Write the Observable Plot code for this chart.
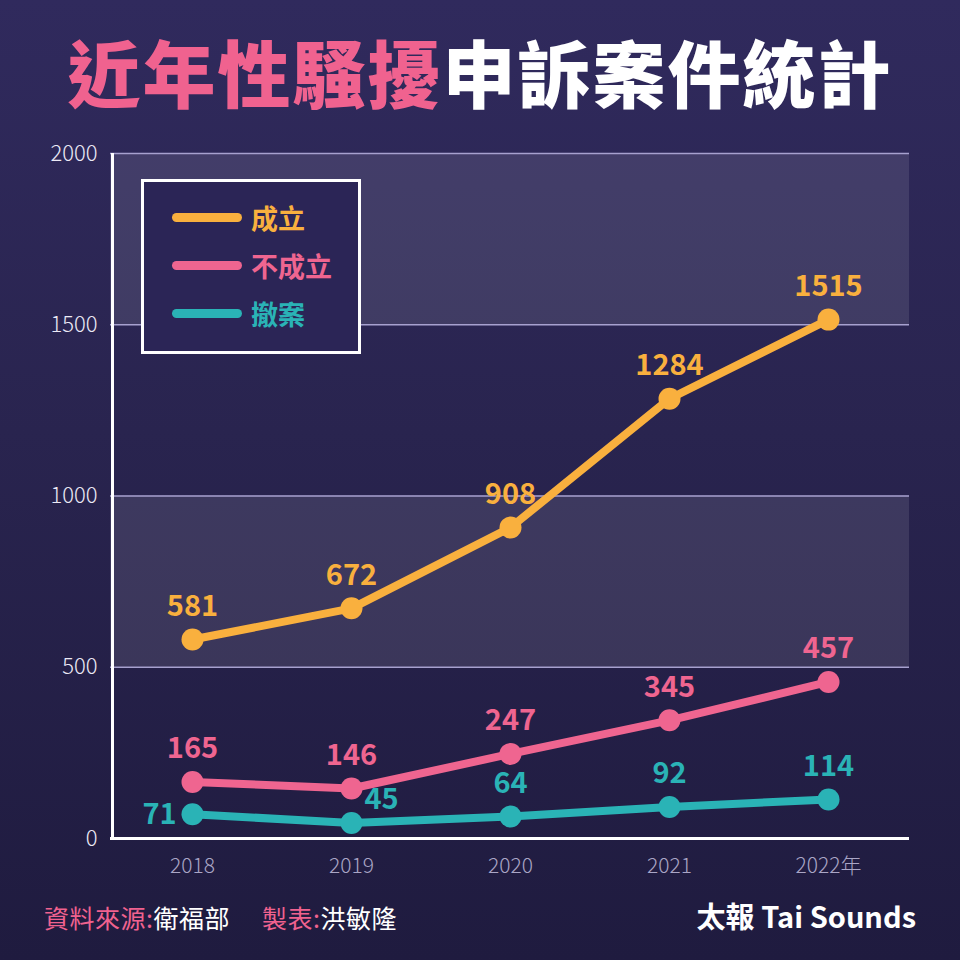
<!DOCTYPE html>
<html><head><meta charset="utf-8">
<script src="https://cdn.jsdelivr.net/npm/d3@7"></script>
<script src="https://cdn.jsdelivr.net/npm/@observablehq/plot@0.6"></script>
<style>
html,body{margin:0;padding:0;}
#page{position:relative;width:960px;height:960px;overflow:hidden;
  background:linear-gradient(180deg,#302a5d 0%,#29244f 45%,#1f1b3f 100%);
  font-family:"Noto Sans CJK TC","Noto Sans",sans-serif;}
#title{position:absolute;left:0;top:0;width:960px;height:140px;text-align:center;
  font-size:73px;font-weight:900;line-height:140px;letter-spacing:2px;}
#title .p{color:#f0628f;} #title .w{color:#ffffff;}
#chart{position:absolute;left:0;top:140px;}
#legend{position:absolute;left:141px;top:179px;width:214px;height:169px;border:3px solid #fff;
  background:#2b2556;box-sizing:content-box;}
.li{position:absolute;left:28px;height:30px;display:flex;align-items:center;}
.li .sw{width:70px;height:9px;border-radius:5px;margin-right:9px;}
.li span{font-size:27px;font-weight:700;}
#foot{position:absolute;left:44px;top:899px;font-size:25px;color:#fff;font-weight:400;letter-spacing:0.5px;white-space:nowrap;}
#foot .p{color:#f0628f;}
#foot .gap{display:inline-block;width:32px;}
#brand{position:absolute;right:44px;top:894px;font-size:29px;font-weight:700;color:#fff;}
</style></head>
<body><div id="page">
<div id="title"><span class="p">近年性騷擾</span><span class="w">申訴案件統計</span></div>
<div id="chart"></div>
<div id="legend"></div>
<div id="foot"><span class="p">資料來源:</span>衛福部<span class="gap"></span><span class="p">製表:</span>洪敏隆</div>
<div id="brand">太報 Tai Sounds</div>
</div>
<script>
const years = ["2018","2019","2020","2021","2022"];
const seriesNames = ["成立","不成立","撤案"];
const established = [581, 672, 908, 1284, 1515];
const notEstablished = [165, 146, 247, 345, 457];
const withdrawn = [71, 45, 64, 92, 114];
const yTicks = [0, 500, 1000, 1500, 2000];
const bandStarts = [500, 1500];
const bandEnds = [1000, 2000];
const colors = ["#f9b03e", "#ef6590", "#2ab3b6"];

const seriesValues = [established, notEstablished, withdrawn];
const data = [];
seriesNames.forEach((s, i) => years.forEach((y, j) => data.push({series: s, year: y, value: seriesValues[i][j]})));
const bands = bandStarts.map((b, i) => ({y1: b, y2: bandEnds[i]}));

const isLeft = d => d.series === "撤案" && d.year === "2018";
const isRight = d => d.series === "撤案" && d.year === "2019";
const isAbove = d => !isLeft(d) && !isRight(d);
const labelFont = {fontSize: 29, fontWeight: 700, fontFamily: "Noto Sans CJK TC"};

const chart = Plot.plot({
  width: 960, height: 750,
  marginTop: 13, marginBottom: 52, marginLeft: 110, marginRight: 51,
  style: {background: "transparent", fontFamily: "Noto Sans CJK TC", overflow: "visible"},
  x: {type: "point", domain: years, padding: 0.5},
  y: {domain: [0, 2000]},
  color: {domain: seriesNames, range: colors},
  marks: [
    Plot.rect(bands, {y1: "y1", y2: "y2", fill: "#ffffff", fillOpacity: 0.1}),
    Plot.ruleY(yTicks.filter(t => t > 0), {stroke: "#a7a1cf", strokeWidth: 1.5}),
    Plot.axisY({ticks: yTicks, tickFormat: d => String(d), tickSize: 0, tickPadding: 13, fontSize: 22, fill: "#eceaf6", fontWeight: 300, label: null}),
    Plot.axisX({tickSize: 0, tickPadding: 20, fontSize: 21, fill: "#aaa6c6", fontWeight: 300, label: null,
      tickFormat: (d, i) => i === years.length - 1 ? d + "年" : d}),
    Plot.ruleY([0], {stroke: "#ffffff", strokeWidth: 3}),
    Plot.ruleX([years[0]], {dx: -80, y1: 0, y2: 2000, stroke: "#ffffff", strokeWidth: 3}),
    Plot.line(data, {x: "year", y: "value", z: "series", stroke: "series", strokeWidth: 8}),
    Plot.dot(data, {x: "year", y: "value", fill: "series", r: 11}),
    Plot.text(data, {filter: isAbove, x: "year", y: "value", text: d => String(d.value), fill: "series", dy: -33, ...labelFont}),
    Plot.text(data, {filter: isLeft, x: "year", y: "value", text: d => String(d.value), fill: "series", dx: -33, dy: 1, ...labelFont}),
    Plot.text(data, {filter: isRight, x: "year", y: "value", text: d => String(d.value), fill: "series", dx: 30, dy: -23, ...labelFont})
  ]
});
document.getElementById("chart").appendChild(chart);

const leg = document.getElementById("legend");
seriesNames.forEach((s, i) => {
  const row = document.createElement("div");
  row.className = "li";
  row.style.top = (20 + i * 48) + "px";
  row.innerHTML = `<div class="sw" style="background:${colors[i]}"></div><span style="color:${colors[i]}">${s}</span>`;
  leg.appendChild(row);
});
</script>
</body></html>
